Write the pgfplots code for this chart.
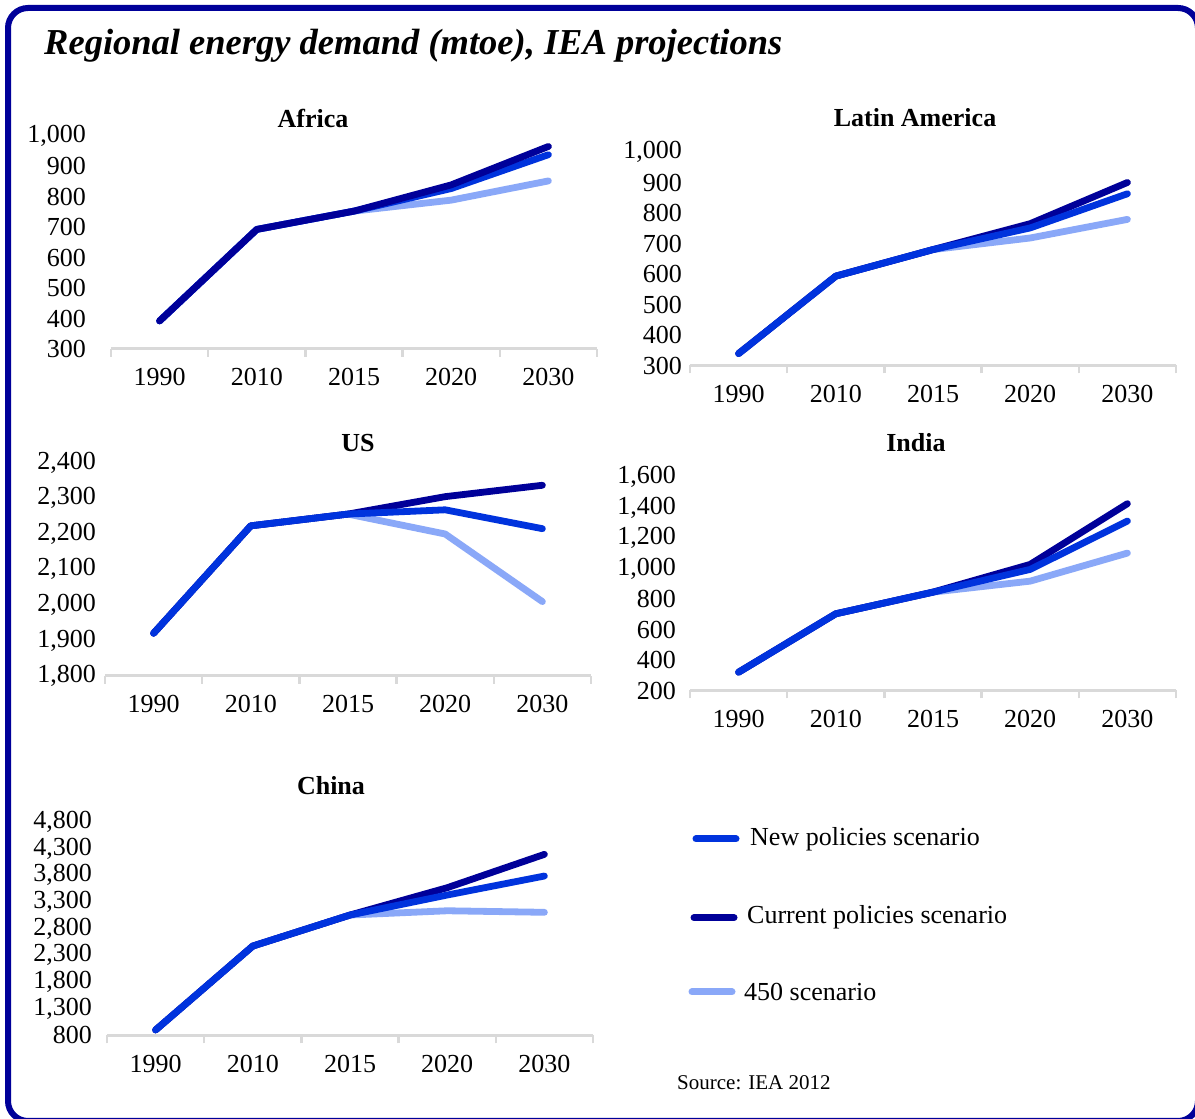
\documentclass[border=0pt]{standalone}
\usepackage{pgfplots}
\pgfplotsset{compat=1.18}
\usepackage{fontspec}
\setmainfont{Liberation Serif}
\definecolor{newcol}{RGB}{0,51,221}
\definecolor{curcol}{RGB}{0,0,153}
\definecolor{lowcol}{RGB}{138,168,248}
\definecolor{axisgray}{RGB}{217,217,217}
\definecolor{framecol}{RGB}{0,0,153}
\pgfplotsset{
  panel/.style={
    scale only axis, width=486bp, height=213.5bp,
    anchor=south west,
    xmin=-0.5, xmax=4.5,
    xtick={0,...,4}, xticklabels={1990,2010,2015,2020,2030},
    extra x ticks={-0.5,0.5,1.5,2.5,3.5,4.5}, extra x tick labels={},
    extra x tick style={major tick length=8bp, tick align=outside},
    tick style={draw=axisgray, line width=2.5bp},
    major tick length=0pt,
    separate axis lines,
    axis x line*=bottom, axis y line*=left,
    x axis line style={-, draw=axisgray, line width=3bp},
    y axis line style={draw=none},
    ytick style={draw=none},
    tick label style={font=\fontsize{26bp}{26bp}\selectfont},
    xticklabel style={inner sep=0pt, anchor=north, yshift=-19.5bp},
    yticklabel style={inner sep=0pt, anchor=east, /pgf/number format/1000 sep={,}, /pgf/number format/assume math mode=true},
    scaled y ticks=false,
    clip=false,
    every axis plot/.append style={line width=6.8bp, line cap=round, line join=round, no marks},
  },
}
\tikzset{ptitle/.style={font=\bfseries\fontsize{26bp}{26bp}\selectfont}}
\begin{document}
\begin{tikzpicture}[x=1bp,y=1bp]
\useasboundingbox (0,0) rectangle (1195,1119);
\fill[white] (0,0) rectangle (1195,1119);
\draw[framecol, line width=6bp, rounded corners=20bp] (8,-2) rectangle (1198,1111);

\node[anchor=base west, font=\bfseries\itshape\fontsize{36.5bp}{36.5bp}\selectfont, inner sep=0pt] at (44,1064) {Regional energy demand (mtoe), IEA projections};

% Africa
\begin{axis}[panel, at={(111bp,770bp)}, ymin=300, ymax=1000, ytick={300,400,...,1000},
  yticklabel style={xshift=-25bp}]
\addplot[lowcol] coordinates {(0,392)(1,692)(2,752)(3,788)(4,851)};
\addplot[newcol] coordinates {(0,392)(1,692)(2,752)(3,826)(4,937)};
\addplot[curcol] coordinates {(0,392)(1,692)(2,752)(3,838)(4,964)};
\end{axis}
\node[ptitle] at (313,1001) {Africa};

% Latin America
\begin{axis}[panel, at={(690bp,753.5bp)}, ymin=300, ymax=1000, ytick={300,400,...,1000},
  yticklabel style={xshift=-8bp}]
\addplot[lowcol] coordinates {(0,339)(1,593)(2,680)(3,718)(4,779)};
\addplot[curcol] coordinates {(0,339)(1,593)(2,680)(3,765)(4,900)};
\addplot[newcol] coordinates {(0,339)(1,593)(2,680)(3,751)(4,863)};
\end{axis}
\node[ptitle] at (915,1001) {Latin America};

% US
\begin{axis}[panel, at={(105bp,443bp)}, ymin=1800, ymax=2400, ytick={1800,1900,...,2400},
  yticklabel style={xshift=-9bp}]
\addplot[lowcol] coordinates {(0,1920)(1,2222)(2,2255)(3,2199)(4,2009)};
\addplot[curcol] coordinates {(0,1920)(1,2222)(2,2255)(3,2304)(4,2336)};
\addplot[newcol] coordinates {(0,1920)(1,2222)(2,2255)(3,2267)(4,2214)};
\end{axis}
\node[ptitle] at (358,676) {US};

% India
\begin{axis}[panel, at={(690bp,428.5bp)}, ymin=200, ymax=1600, ytick={200,400,...,1600},
  yticklabel style={xshift=-14bp}]
\addplot[lowcol] coordinates {(0,320)(1,703)(2,845)(3,917)(4,1101)};
\addplot[curcol] coordinates {(0,320)(1,703)(2,845)(3,1027)(4,1425)};
\addplot[newcol] coordinates {(0,320)(1,703)(2,845)(3,994)(4,1311)};
\end{axis}
\node[ptitle] at (916,676) {India};

% China
\begin{axis}[panel, at={(107bp,83.7bp)}, ymin=800, ymax=4800, ytick={800,1300,...,4800},
  yticklabel style={xshift=-15bp}]
\addplot[lowcol] coordinates {(0,900)(1,2472)(2,3053)(3,3133)(4,3104)};
\addplot[curcol] coordinates {(0,900)(1,2472)(2,3053)(3,3565)(4,4190)};
\addplot[newcol] coordinates {(0,900)(1,2472)(2,3053)(3,3428)(4,3784)};
\end{axis}
\node[ptitle] at (331,333) {China};

% Legend
\begin{scope}[line width=7bp, line cap=round]
\draw[newcol] (696,280) -- (736,280);
\draw[curcol] (694,201.3) -- (734,201.3);
\draw[lowcol] (692,127) -- (732,127);
\end{scope}
\begin{scope}[every node/.style={anchor=west, inner sep=0pt, font=\fontsize{26bp}{26bp}\selectfont}]
\node at (750,280) {New policies scenario};
\node at (747,201.3) {Current policies scenario};
\node at (744,127) {450 scenario};
\end{scope}
\node[anchor=west, inner sep=0pt, font=\fontsize{21bp}{21bp}\selectfont] at (677,36) {Source: IEA 2012};
\end{tikzpicture}
\end{document}
